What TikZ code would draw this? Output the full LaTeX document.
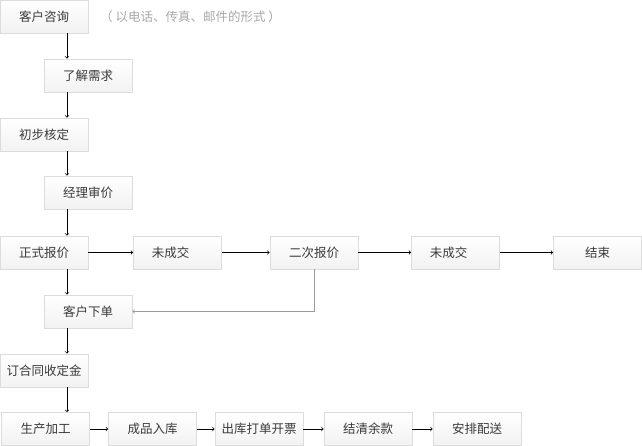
\documentclass[tikz,border=0pt]{standalone}
\usepackage{fontspec}
\newfontfamily\cjk{Noto Sans CJK SC}
\usepackage{tikz}
\usetikzlibrary{calc}
\usetikzlibrary{positioning}
\definecolor{boxline}{HTML}{DCDCDC}
\definecolor{boxtext}{HTML}{3A3A3A}
\definecolor{notetext}{HTML}{A8A8A8}
\definecolor{backline}{HTML}{9A9A9A}
\tikzset{
step box/.style={rectangle,draw=boxline,line width=0.8pt,top color=white,bottom color={rgb,255:red,242;green,242;blue,242},text=boxtext,align=center,inner sep=0pt,minimum width=88pt,minimum height=33pt,font=\cjk\fontsize{12.5}{14}\selectfont},
note/.style={text=notetext,inner sep=0pt,font=\cjk\fontsize{12.5}{14}\selectfont},
line/.style={black,line width=0.7pt,->},
back line/.style={backline,line width=0.7pt,->}
}
\begin{document}
\begin{tikzpicture}[x=1pt,y=-1pt]
    \useasboundingbox (0,0) rectangle (642,446);
    %
    \node[step box](s1) at (44, 16.5) {客户咨询};
    \node[note, anchor=west](n1) at (100, 17) {（ 以电话、传真、邮件的形式 ）};
    \node[step box](s2) at (88, 75.5) {了解需求};
    \node[step box](s3) at (44, 134.5) {初步核定};
    \node[step box](s4) at (88, 192.5) {经理审价};
    \node[step box](s5) at (44, 252.5) {正式报价};
    \node[step box](s6) at (177.5, 252.5) {未成交\hspace*{14pt}};
    \node[step box](s7) at (314, 252.5) {二次报价};
    \node[step box](s8) at (455.5, 252.5) {未成交\hspace*{14pt}};
    \node[step box](s9) at (597.5, 252.5) {结束};
    \node[step box](s10) at (88, 311.5) {客户下单};
    \node[step box](s11) at (44, 370.5) {订合同收定金};
    \node[step box](s12) at (45.5, 429) {生产加工};
    \node[step box](s13) at (152.5, 429) {成品入库};
    \node[step box](s14) at (259, 429) {出库打单开票};
    \node[step box](s15) at (368, 429) {结清余款};
    \node[step box](s16) at (477, 429) {安排配送};
    \coordinate (axis) at (67, 0);
    %
    \foreach \u / \v in {s1/s2,s2/s3,s3/s4,s4/s5,s5/s10,s10/s11,s11/s12}
    \draw[line] (axis |- \u.south) -- (axis |- \v.north);
    %
    \foreach \u / \v in {s5/s6,s6/s7,s7/s8,s8/s9,s12/s13,s13/s14,s14/s15,s15/s16}
    \draw[line] (\u.east) -- (\v.west);
    %
    \draw[back line] (s7.south) |- (s10.east);
  \end{tikzpicture}
\end{document}
